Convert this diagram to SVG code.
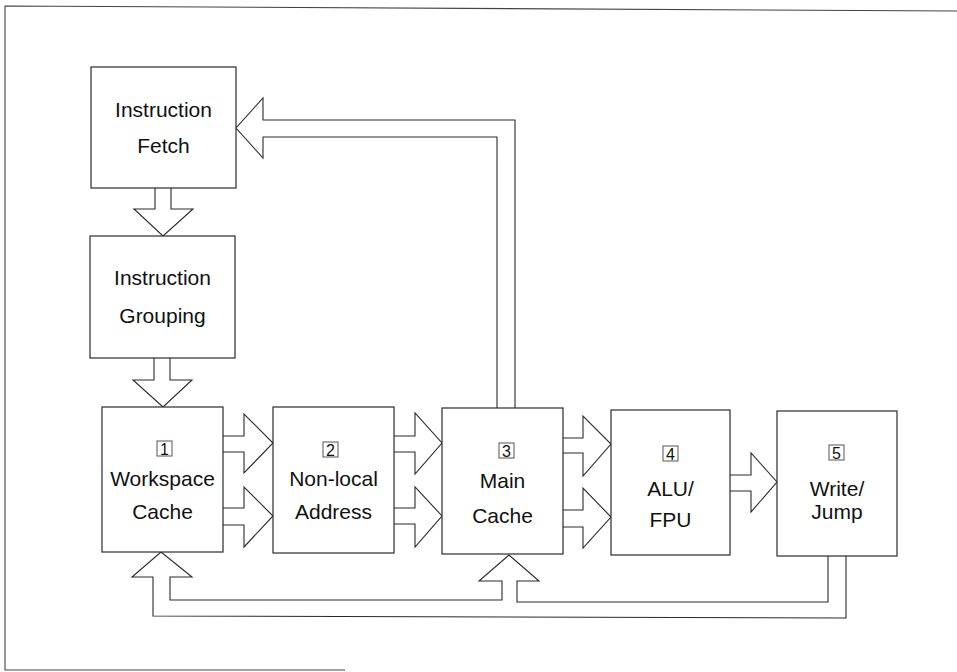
<svg xmlns="http://www.w3.org/2000/svg" width="957" height="672" viewBox="0 0 957 672">
<style>
.box{fill:#fff;stroke:#2a2a2a;stroke-width:1.2}
.arr{fill:#fff;stroke:#2a2a2a;stroke-width:1.1;stroke-linejoin:miter}
.lbl{font-family:"Liberation Sans",Arial,sans-serif;font-size:21px;fill:#111;text-anchor:middle}
.num{fill:#fff;stroke:#555;stroke-width:1}
.numt{font-family:"Liberation Sans",Arial,sans-serif;font-size:16px;fill:#111;text-anchor:middle}
.frame{fill:none;stroke:#444;stroke-width:1.1}
</style>
<rect width="957" height="672" fill="#fff"/>
<path class="frame" d="M957,11 L5,6 L5,670 L345,670"/>
<g id="connectors">
<path class="arr" d="M515,409 L515,120 L263,120 L263,98 L236,128 L263,158 L263,137 L497,137 L497,409"/>
<path class="arr" d="M155,188 L155,209 L134,209 L163,236 L193,209 L171,209 L171,188"/>
<path class="arr" d="M154,358 L154,380 L133,380 L163,407 L192,380 L170,380 L170,358"/>
<path class="arr" d="M223,436 L244,436 L244,414 L273,443 L244,473 L244,452 L223,452"/>
<path class="arr" d="M223,508 L244,508 L244,487 L273,516 L244,547 L244,525 L223,525"/>
<path class="arr" d="M394,436 L415,436 L415,413 L442,443 L415,474 L415,452 L394,452"/>
<path class="arr" d="M394,508 L415,508 L415,487 L442,516 L415,547 L415,524 L394,524"/>
<path class="arr" d="M563,438 L583,438 L583,416 L611,444 L583,476 L583,453 L563,453"/>
<path class="arr" d="M563,510 L583,510 L583,488 L611,517 L583,548 L583,527 L563,527"/>
<path class="arr" d="M730,475 L751,475 L751,453 L777,482 L751,512 L751,491 L730,491"/>
<path class="arr" d="M828,556 L828,602 L517,602 L517,581 L539,581 L509,555 L479,581 L502,581 L502,600 L170,600 L170,577 L192,577 L161,552 L132,577 L153,577 L153,616 L846,618 L846,556"/>
</g>
<g id="fetch">
<rect class="box" x="91" y="67" width="145" height="121"/>
<text class="lbl" x="163.5" y="117">Instruction</text>
<text class="lbl" x="163.5" y="153">Fetch</text>
</g>
<g id="grouping">
<rect class="box" x="90" y="236" width="145" height="122"/>
<text class="lbl" x="162.5" y="285">Instruction</text>
<text class="lbl" x="162.5" y="323">Grouping</text>
</g>
<g id="workspace">
<rect class="box" x="102" y="407" width="121" height="145"/>
<rect class="num" x="157" y="441" width="15" height="15"/>
<text class="numt" x="164.5" y="454.5">1</text>
<text class="lbl" x="162.5" y="486">Workspace</text>
<text class="lbl" x="162.5" y="519">Cache</text>
</g>
<g id="nonlocal">
<rect class="box" x="273" y="407" width="121" height="146"/>
<rect class="num" x="323" y="442" width="15" height="15"/>
<text class="numt" x="330.5" y="455.5">2</text>
<text class="lbl" x="333.5" y="486">Non-local</text>
<text class="lbl" x="333.5" y="519">Address</text>
</g>
<g id="maincache">
<rect class="box" x="442" y="408" width="121" height="146"/>
<rect class="num" x="499" y="443" width="15" height="15"/>
<text class="numt" x="506.5" y="456.5">3</text>
<text class="lbl" x="502.5" y="488">Main</text>
<text class="lbl" x="502.5" y="523">Cache</text>
</g>
<g id="alu">
<rect class="box" x="611" y="410" width="119" height="145"/>
<rect class="num" x="663" y="446" width="15" height="15"/>
<text class="numt" x="670.5" y="459.5">4</text>
<text class="lbl" x="670.5" y="496">ALU/</text>
<text class="lbl" x="670.5" y="527">FPU</text>
</g>
<g id="write">
<rect class="box" x="777" y="411" width="120" height="145"/>
<rect class="num" x="829" y="445" width="15" height="15"/>
<text class="numt" x="836.5" y="458.5">5</text>
<text class="lbl" x="837" y="496">Write/</text>
<text class="lbl" x="837" y="519">Jump</text>
</g>
</svg>
